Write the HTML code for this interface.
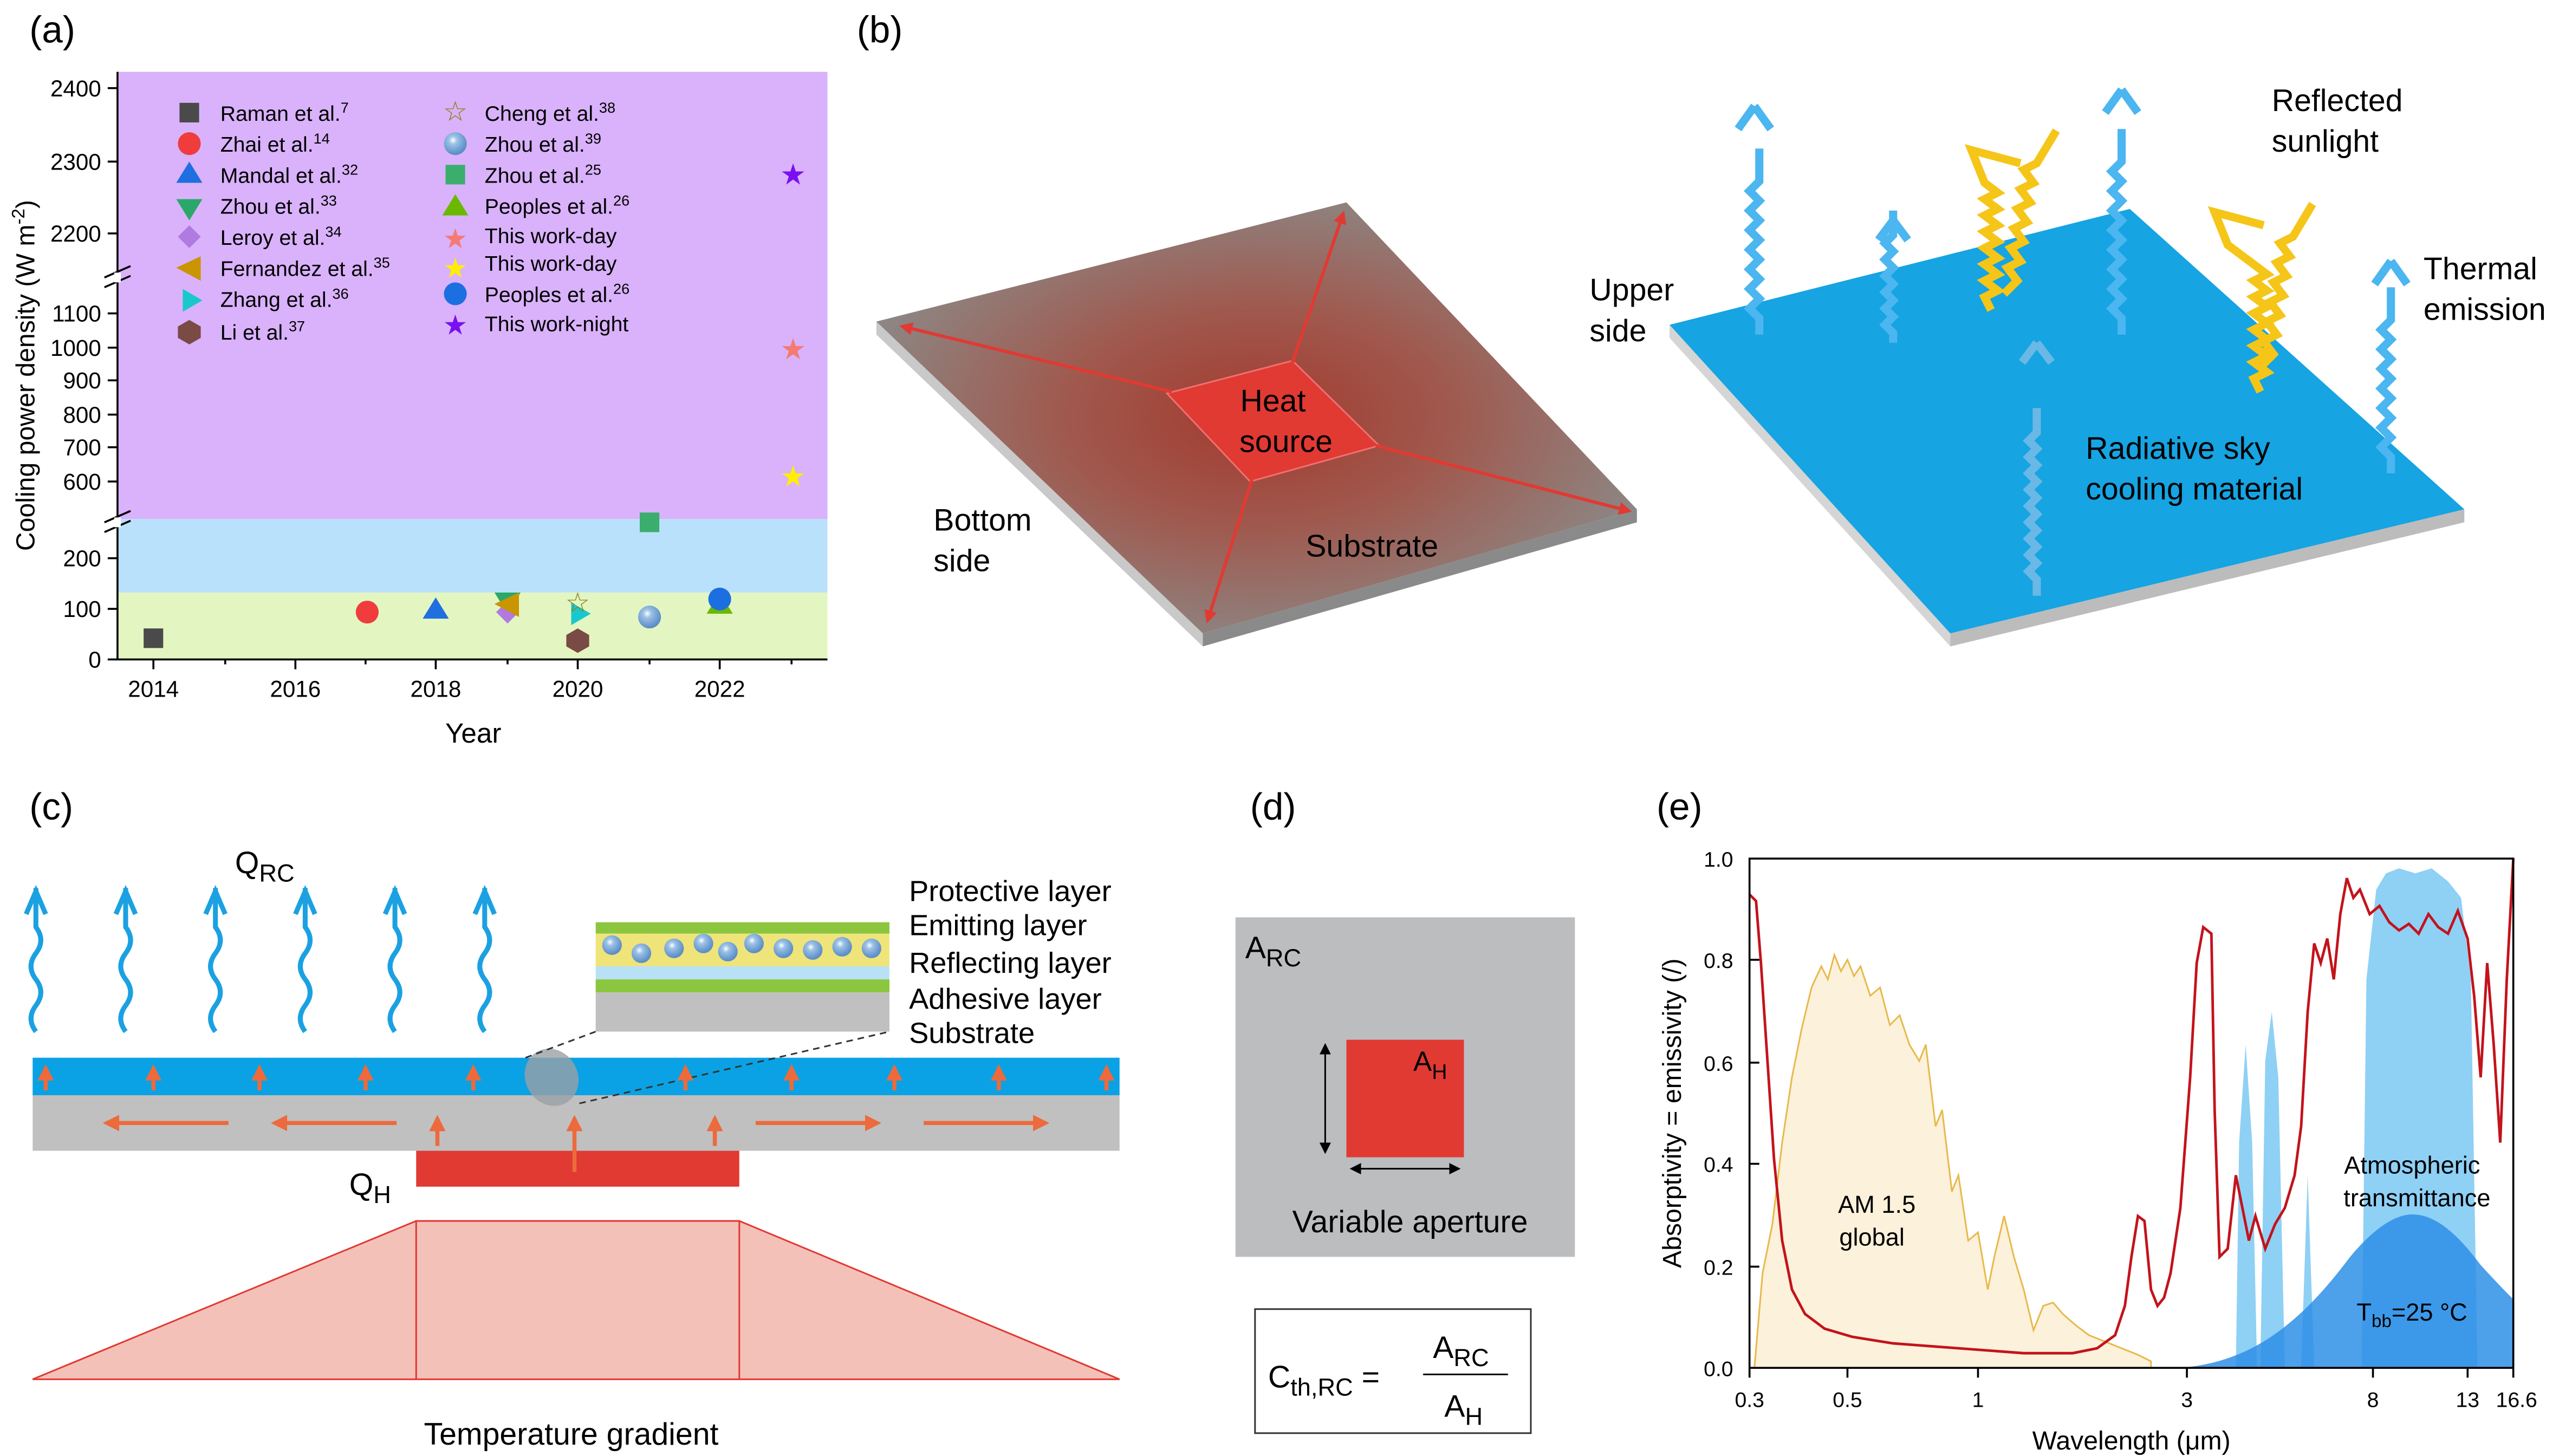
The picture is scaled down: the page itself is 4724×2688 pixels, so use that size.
<!DOCTYPE html>
<html><head><meta charset="utf-8"><style>
html,body{margin:0;padding:0;background:#fff;}
svg{display:block;font-family:"Liberation Sans",Arial,sans-serif;}
</style></head><body>
<svg width="4724" height="2688" viewBox="0 0 1568 892" preserveAspectRatio="none" xmlns="http://www.w3.org/2000/svg">
<defs>
<radialGradient id="heat" cx="0.5" cy="0.5" r="0.55">
<stop offset="0" stop-color="#a33a2e"/><stop offset="0.45" stop-color="#a0584d"/><stop offset="1" stop-color="#8c8886"/>
</radialGradient>
<radialGradient id="sph" cx="0.4" cy="0.35" r="0.6"><stop offset="0" stop-color="#fff"/><stop offset="0.3" stop-color="#9cc2e6"/><stop offset="1" stop-color="#5d8fc8"/></radialGradient>
<marker id="ar" markerWidth="8" markerHeight="8" refX="6" refY="4" orient="auto" markerUnits="userSpaceOnUse"><path d="M0,0 L8,4 L0,8 z" fill="#e03a33"/></marker>
<marker id="ao" markerWidth="10" markerHeight="10" refX="8" refY="5" orient="auto" markerUnits="userSpaceOnUse"><path d="M0,0 L10,5 L0,10 z" fill="#ec6a3c"/></marker>
<marker id="ak" markerWidth="7" markerHeight="7" refX="6" refY="3.5" orient="auto-start-reverse" markerUnits="userSpaceOnUse"><path d="M0,0 L7,3.5 L0,7 z" fill="#000"/></marker>
</defs>

<!-- ============ (a) ============ -->
<text x="18" y="26" font-size="23">(a)</text>
<rect x="72" y="44" width="435" height="274" fill="#d9b2fb"/>
<rect x="72" y="318" width="435" height="45" fill="#b9e1fb"/>
<rect x="72" y="363" width="435" height="41" fill="#e3f6c2"/>
<g stroke="#000" stroke-width="1.2" fill="none">
<line x1="72" y1="44" x2="72" y2="404"/><line x1="66" y1="404" x2="507" y2="404"/>
<line x1="66" y1="54" x2="72" y2="54"/><line x1="66" y1="99" x2="72" y2="99"/><line x1="66" y1="143" x2="72" y2="143"/>
<line x1="66" y1="192" x2="72" y2="192"/><line x1="66" y1="213" x2="72" y2="213"/><line x1="66" y1="233" x2="72" y2="233"/><line x1="66" y1="254" x2="72" y2="254"/><line x1="66" y1="274" x2="72" y2="274"/><line x1="66" y1="295" x2="72" y2="295"/>
<line x1="66" y1="342" x2="72" y2="342"/><line x1="66" y1="373" x2="72" y2="373"/>
<line x1="94" y1="404" x2="94" y2="410"/><line x1="181" y1="404" x2="181" y2="410"/><line x1="267" y1="404" x2="267" y2="410"/><line x1="354" y1="404" x2="354" y2="410"/><line x1="441" y1="404" x2="441" y2="410"/>
<line x1="138" y1="404" x2="138" y2="407"/><line x1="224" y1="404" x2="224" y2="407"/><line x1="311" y1="404" x2="311" y2="407"/><line x1="398" y1="404" x2="398" y2="407"/><line x1="485" y1="404" x2="485" y2="407"/>
<line x1="64" y1="170" x2="80" y2="163"/><line x1="64" y1="176" x2="80" y2="169"/>
<line x1="64" y1="320" x2="80" y2="313"/><line x1="64" y1="326" x2="80" y2="319"/>
</g>
<rect x="70" y="167" width="4" height="6" fill="#fff"/><rect x="70" y="317" width="4" height="6" fill="#fff"/>
<g font-size="14" text-anchor="end">
<text x="62" y="59">2400</text><text x="62" y="104">2300</text><text x="62" y="148">2200</text>
<text x="62" y="197">1100</text><text x="62" y="218">1000</text><text x="62" y="238">900</text><text x="62" y="259">800</text><text x="62" y="279">700</text><text x="62" y="300">600</text>
<text x="62" y="347">200</text><text x="62" y="378">100</text><text x="62" y="409">0</text>
</g>
<g font-size="14" text-anchor="middle"><text x="94" y="427">2014</text><text x="181" y="427">2016</text><text x="267" y="427">2018</text><text x="354" y="427">2020</text><text x="441" y="427">2022</text></g>
<text x="290" y="455" font-size="17" text-anchor="middle">Year</text>
<text transform="translate(21,230) rotate(-90)" font-size="16" text-anchor="middle">Cooling power density (W m<tspan dy="-6" font-size="11">-2</tspan><tspan dy="6">)</tspan></text>
<!-- legend -->
<g font-size="13">
<rect x="110" y="63" width="12" height="12" fill="#4a4a4a"/><text x="135" y="74">Raman et al.<tspan dy="-5" font-size="9">7</tspan></text>
<circle cx="116" cy="88" r="7" fill="#f03c3c"/><text x="135" y="93">Zhai et al.<tspan dy="-5" font-size="9">14</tspan></text>
<path d="M108,112 L116,99 L124,112z" fill="#1f6fe0"/><text x="135" y="112">Mandal et al.<tspan dy="-5" font-size="9">32</tspan></text>
<path d="M108,122 L124,122 L116,135z" fill="#2aa86a"/><text x="135" y="131">Zhou et al.<tspan dy="-5" font-size="9">33</tspan></text>
<path d="M116,138 L123,145 L116,152 L109,145z" fill="#b17ae0"/><text x="135" y="150">Leroy et al.<tspan dy="-5" font-size="9">34</tspan></text>
<path d="M108,164 L123,157 L123,172z" fill="#c99500"/><text x="135" y="169">Fernandez et al.<tspan dy="-5" font-size="9">35</tspan></text>
<path d="M112,177 L124,184 L112,191z" fill="#19c8cc"/><text x="135" y="188">Zhang et al.<tspan dy="-5" font-size="9">36</tspan></text>
<path d="M116,196 L123,200 L123,207 L116,211 L109,207 L109,200z" fill="#7a4a44"/><text x="135" y="208">Li et al.<tspan dy="-5" font-size="9">37</tspan></text>
<text x="279" y="74" font-size="17" text-anchor="middle" fill="#8a8020">☆</text><text x="297" y="74">Cheng et al.<tspan dy="-5" font-size="9">38</tspan></text>
<circle cx="279" cy="88" r="7" fill="url(#sph)"/><text x="297" y="93">Zhou et al.<tspan dy="-5" font-size="9">39</tspan></text>
<rect x="273" y="101" width="12" height="12" fill="#3bae6e"/><text x="297" y="112">Zhou et al.<tspan dy="-5" font-size="9">25</tspan></text>
<path d="M271,132 L279,119 L287,132z" fill="#6bb800"/><text x="297" y="131">Peoples et al.<tspan dy="-5" font-size="9">26</tspan></text>
<text x="279" y="152" font-size="17" text-anchor="middle" fill="#f47a72">★</text><text x="297" y="149">This work-day</text>
<text x="279" y="170" font-size="17" text-anchor="middle" fill="#ffee00">★</text><text x="297" y="166">This work-day</text>
<circle cx="279" cy="180" r="7" fill="#1c6fe0"/><text x="297" y="185">Peoples et al.<tspan dy="-5" font-size="9">26</tspan></text>
<text x="279" y="205" font-size="17" text-anchor="middle" fill="#7a10f0">★</text><text x="297" y="203">This work-night</text>
</g>
<!-- data points -->
<rect x="88" y="385" width="12" height="12" fill="#4a4a4a"/>
<circle cx="225" cy="375" r="7" fill="#f03c3c"/>
<path d="M259,379 L267,366 L275,379z" fill="#1f6fe0"/>
<path d="M303,363 L319,363 L311,376z" fill="#2aa86a"/>
<path d="M311,368 L318,375 L311,382 L304,375z" fill="#b17ae0"/>
<path d="M303,370 L318,363 L318,378z" fill="#c99500"/>
<path d="M350,369 L362,376 L350,383z" fill="#19c8cc"/>
<text x="354" y="375" font-size="17" text-anchor="middle" fill="#8a8020">☆</text>
<path d="M354,385 L361,389 L361,396 L354,400 L347,396 L347,389z" fill="#7a4a44"/>
<circle cx="398" cy="378" r="7" fill="url(#sph)"/>
<rect x="392" y="314" width="12" height="12" fill="#3bae6e"/>
<path d="M433,376 L441,363 L449,376z" fill="#6bb800"/>
<circle cx="441" cy="367" r="7" fill="#1c6fe0"/>
<text x="486" y="113" font-size="18" text-anchor="middle" fill="#7a10f0">★</text>
<text x="486" y="220" font-size="18" text-anchor="middle" fill="#f47a72">★</text>
<text x="486" y="298" font-size="18" text-anchor="middle" fill="#ffee00">★</text>

<!-- ============ (b) ============ -->
<text x="525" y="26" font-size="23">(b)</text>
<!-- left slab -->
<path d="M537,197 L737,388 L737,396 L537,205z" fill="#c9c9c9"/>
<path d="M737,388 L1003,312 L1003,320 L737,396z" fill="#8a8a8a"/>
<path d="M537,197 L825,124 L1003,312 L737,388z" fill="url(#heat)"/>
<path d="M715,241 L792,221 L845,273 L766,295z" fill="#e03a33" stroke="#f07070" stroke-width="1"/>
<g stroke="#e03a33" stroke-width="2" marker-end="url(#ar)">
<line x1="718" y1="240" x2="553" y2="200"/><line x1="792" y1="222" x2="823" y2="131"/>
<line x1="843" y1="273" x2="998" y2="313"/><line x1="767" y1="294" x2="740" y2="380"/>
</g>
<text x="780" y="252" font-size="19" text-anchor="middle">Heat</text><text x="788" y="277" font-size="19" text-anchor="middle">source</text>
<text x="572" y="325" font-size="19">Bottom</text><text x="572" y="350" font-size="19">side</text>
<text x="800" y="341" font-size="19">Substrate</text>
<!-- right slab -->
<path d="M1023,199 L1195,388 L1195,396 L1023,207z" fill="#d5d5d5"/>
<path d="M1195,388 L1510,312 L1510,320 L1195,396z" fill="#bcbcbc"/>
<path d="M1023,199 L1305,128 L1510,312 L1195,388z" fill="#16a4e2"/>
<g fill="none" stroke-width="5" stroke-linejoin="miter">
<g stroke="#4bb6f0">
<path d="M1078,205 l0,-10 l-6,-6 l6,-6 l-6,-6 l6,-6 l-6,-6 l6,-6 l-6,-6 l6,-6 l-6,-6 l6,-6 l-6,-6 l6,-6 l-6,-6 l6,-6 l0,-20"/>
<path d="M1075,65 l-10,14 M1075,65 l10,14"/>
<path d="M1160,210 l0,-6 l-5,-5 l5,-5 l-5,-5 l5,-5 l-5,-5 l5,-5 l-5,-5 l5,-5 l-5,-5 l5,-5 l-5,-5 l5,-5 l0,-15"/>
<path d="M1160,135 l-9,12 M1160,135 l9,12"/>
<path d="M1300,205 l0,-10 l-6,-6 l6,-6 l-6,-6 l6,-6 l-6,-6 l6,-6 l-6,-6 l6,-6 l-6,-6 l6,-6 l-6,-6 l6,-6 l-6,-6 l6,-6 l-6,-6 l6,-6 l0,-20"/>
<path d="M1300,55 l-10,14 M1300,55 l10,14"/>
<path d="M1465,290 l0,-10 l-6,-6 l6,-6 l-6,-6 l6,-6 l-6,-6 l6,-6 l-6,-6 l6,-6 l-6,-6 l6,-6 l-6,-6 l6,-6 l-6,-6 l6,-6 l0,-20"/>
<path d="M1465,160 l-10,14 M1465,160 l10,14"/>
</g>
<g stroke="#6ab8e6">
<path d="M1248,365 l0,-10 l-5,-5 l5,-5 l-5,-5 l5,-5 l-5,-5 l5,-5 l-5,-5 l5,-5 l-5,-5 l5,-5 l-5,-5 l5,-5 l-5,-5 l5,-5 l-5,-5 l5,-5 l-5,-5 l5,-5 l0,-15"/>
<path d="M1248,210 l-9,12 M1248,210 l9,12"/>
</g>
<g stroke="#f5c518">
<path d="M1220,190 l-4,-8 l8,-4 l-8,-6 l8,-4 l-8,-6 l8,-4 l-8,-6 l8,-4 l-8,-6 l8,-4 l-8,-6 l8,-4 l-8,-6 l8,-4 l-8,-6 l-8,-20 l30,8"/>
<path d="M1228,180 l8,-8 l-6,-8 l8,-4 l-6,-8 l8,-4 l-6,-8 l8,-4 l-6,-8 l8,-4 l-6,-8 l8,-4 l-6,-8 l8,-4 l12,-20"/>
<path d="M1385,240 l-4,-8 l8,-4 l-8,-6 l8,-4 l-8,-6 l8,-4 l-8,-6 l8,-4 l-8,-6 l8,-4 l-8,-6 l8,-4 l-8,-6 l8,-4 l-8,-6 l-8,-6 l-8,-6 l-8,-20 l30,8"/>
<path d="M1385,225 l8,-8 l-6,-8 l8,-4 l-6,-8 l8,-4 l-6,-8 l8,-4 l-6,-8 l8,-4 l-6,-8 l8,-4 l-6,-8 l8,-4 l12,-20"/>
</g>
</g>
<text x="974" y="184" font-size="19">Upper</text><text x="974" y="209" font-size="19">side</text>
<text x="1392" y="68" font-size="19">Reflected</text><text x="1392" y="93" font-size="19">sunlight</text>
<text x="1485" y="171" font-size="19">Thermal</text><text x="1485" y="196" font-size="19">emission</text>
<text x="1278" y="281" font-size="19">Radiative sky</text><text x="1278" y="306" font-size="19">cooling material</text>

<!-- ============ (c) ============ -->
<text x="18" y="502" font-size="23">(c)</text>
<text x="144" y="535" font-size="19">Q<tspan dy="5" font-size="15">RC</tspan></text>
<g fill="none" stroke="#1ba1e2" stroke-width="3">
<path d="M22,632 q-6,-8 0,-16 q6,-8 0,-16 q-6,-8 0,-16 q6,-8 0,-16 l0,-24 M16,560 l6,-14 l6,14"/>
<path d="M77,632 q-6,-8 0,-16 q6,-8 0,-16 q-6,-8 0,-16 q6,-8 0,-16 l0,-24 M71,560 l6,-14 l6,14"/>
<path d="M132,632 q-6,-8 0,-16 q6,-8 0,-16 q-6,-8 0,-16 q6,-8 0,-16 l0,-24 M126,560 l6,-14 l6,14"/>
<path d="M187,632 q-6,-8 0,-16 q6,-8 0,-16 q-6,-8 0,-16 q6,-8 0,-16 l0,-24 M181,560 l6,-14 l6,14"/>
<path d="M242,632 q-6,-8 0,-16 q6,-8 0,-16 q-6,-8 0,-16 q6,-8 0,-16 l0,-24 M236,560 l6,-14 l6,14"/>
<path d="M297,632 q-6,-8 0,-16 q6,-8 0,-16 q-6,-8 0,-16 q6,-8 0,-16 l0,-24 M291,560 l6,-14 l6,14"/>
</g>
<rect x="20" y="648" width="666" height="23" fill="#0aa2e4"/>
<rect x="20" y="671" width="666" height="34" fill="#c0c0c0"/>
<rect x="255" y="705" width="198" height="22" fill="#e03a33"/>
<ellipse cx="338" cy="660" rx="16" ry="18" transform="rotate(-30 338 660)" fill="#9aa0a6" opacity="0.8"/>
<line x1="322" y1="648" x2="365" y2="632" stroke="#333" stroke-dasharray="4,3"/>
<line x1="355" y1="676" x2="545" y2="632" stroke="#333" stroke-dasharray="4,3"/>
<rect x="365" y="565" width="180" height="7" fill="#8cc63f"/>
<rect x="365" y="572" width="180" height="20" fill="#efe47a"/>
<rect x="365" y="592" width="180" height="8" fill="#b9e1f5"/>
<rect x="365" y="600" width="180" height="8" fill="#8cc63f"/>
<rect x="365" y="608" width="180" height="24" fill="#c0c0c0"/>
<g fill="url(#sph)"><circle cx="375" cy="579" r="6"/><circle cx="393" cy="584" r="6"/><circle cx="413" cy="581" r="6"/><circle cx="431" cy="578" r="6"/><circle cx="446" cy="583" r="6"/><circle cx="462" cy="578" r="6"/><circle cx="480" cy="581" r="6"/><circle cx="498" cy="582" r="6"/><circle cx="516" cy="580" r="6"/><circle cx="534" cy="581" r="6"/></g>
<g font-size="18"><text x="557" y="552">Protective layer</text><text x="557" y="573">Emitting layer</text><text x="557" y="596">Reflecting layer</text><text x="557" y="618">Adhesive layer</text><text x="557" y="639">Substrate</text></g>
<g stroke="#ec6a3c" stroke-width="2.5" marker-end="url(#ao)">
<line x1="28" y1="668" x2="28" y2="654"/><line x1="94" y1="668" x2="94" y2="654"/><line x1="159" y1="668" x2="159" y2="654"/><line x1="224" y1="668" x2="224" y2="654"/><line x1="290" y1="668" x2="290" y2="654"/><line x1="420" y1="668" x2="420" y2="654"/><line x1="485" y1="668" x2="485" y2="654"/><line x1="548" y1="668" x2="548" y2="654"/><line x1="612" y1="668" x2="612" y2="654"/><line x1="678" y1="668" x2="678" y2="654"/>
<line x1="268" y1="702" x2="268" y2="685"/><line x1="352" y1="718" x2="352" y2="685"/><line x1="438" y1="702" x2="438" y2="685"/>
<line x1="140" y1="688" x2="65" y2="688"/><line x1="243" y1="688" x2="168" y2="688"/>
<line x1="463" y1="688" x2="538" y2="688"/><line x1="566" y1="688" x2="641" y2="688"/>
</g>
<text x="214" y="732" font-size="19">Q<tspan dy="5" font-size="15">H</tspan></text>
<path d="M20,845 L255,748 L453,748 L686,845z" fill="#f4c1b9" stroke="#e03a33" stroke-width="1"/>
<line x1="255" y1="748" x2="255" y2="845" stroke="#e03a33"/><line x1="453" y1="748" x2="453" y2="845" stroke="#e03a33"/>
<text x="350" y="885" font-size="19" text-anchor="middle">Temperature gradient</text>

<!-- ============ (d) ============ -->
<text x="766" y="502" font-size="23">(d)</text>
<rect x="757" y="562" width="208" height="208" fill="#bcbdbf"/>
<text x="763" y="587" font-size="19">A<tspan dy="5" font-size="15">RC</tspan></text>
<rect x="825" y="637" width="72" height="72" fill="#e03a33"/>
<text x="866" y="656" font-size="17">A<tspan dy="5" font-size="13">H</tspan></text>
<line x1="812" y1="640" x2="812" y2="706" stroke="#000" marker-start="url(#ak)" marker-end="url(#ak)"/>
<line x1="828" y1="716" x2="894" y2="716" stroke="#000" marker-start="url(#ak)" marker-end="url(#ak)"/>
<text x="864" y="755" font-size="19" text-anchor="middle">Variable aperture</text>
<rect x="769" y="802" width="169" height="76" fill="#fff" stroke="#333"/>
<text x="777" y="850" font-size="19">C<tspan dy="5" font-size="15">th,RC</tspan><tspan dy="-5"> =</tspan></text>
<text x="878" y="832" font-size="19">A<tspan dy="5" font-size="15">RC</tspan></text>
<line x1="872" y1="842" x2="924" y2="842" stroke="#000"/>
<text x="885" y="868" font-size="19">A<tspan dy="5" font-size="15">H</tspan></text>

<!-- ============ (e) ============ -->
<text x="1015" y="502" font-size="23">(e)</text>
<!-- AM1.5 -->
<path d="M1075,838 L1080,780 L1086,750 L1092,700 L1098,660 L1104,630 L1110,605 L1116,592 L1120,600 L1124,585 L1128,595 L1132,588 L1136,598 L1140,592 L1146,610 L1152,605 L1158,628 L1164,622 L1170,640 L1176,650 L1180,640 L1186,690 L1190,680 L1196,730 L1200,720 L1206,760 L1212,755 L1218,790 L1222,770 L1228,745 L1234,770 L1240,790 L1246,815 L1252,800 L1258,798 L1264,805 L1272,812 L1280,818 L1290,822 L1300,826 L1310,830 L1318,834 L1318,838 Z" fill="#fcf1da" stroke="#e8b94c" stroke-width="1"/>
<!-- atmospheric transmittance -->
<path d="M1370,838 L1372,700 L1376,640 L1380,700 L1383,838 Z M1385,838 L1388,650 L1392,620 L1396,660 L1400,838 Z M1410,838 L1414,720 L1418,838 Z M1447,838 L1450,600 L1456,545 L1462,535 L1470,532 L1480,535 L1490,532 L1500,540 L1508,550 L1514,600 L1518,838 Z" fill="#8fd0f5"/>
<!-- blackbody -->
<path d="M1335,838 C1380,835 1410,810 1440,770 C1455,752 1468,744 1478,744 C1492,744 1505,755 1520,775 C1530,786 1536,792 1540,796 L1540,838 Z" fill="#2e8fe6" opacity="0.85"/>
<!-- absorptivity -->
<polyline fill="none" stroke="#c3131b" stroke-width="1.6" points="1072,548 1076,552 1079,590 1083,650 1087,710 1092,760 1098,790 1106,805 1118,814 1135,819 1160,823 1200,826 1240,829 1270,829 1285,826 1296,818 1302,800 1306,770 1310,745 1314,748 1318,790 1322,800 1326,795 1330,780 1336,740 1342,660 1346,590 1350,568 1355,572 1357,680 1360,770 1365,765 1370,720 1374,740 1378,760 1382,745 1388,765 1394,750 1400,740 1406,720 1410,690 1414,620 1418,578 1422,590 1426,575 1430,600 1434,560 1438,538 1442,550 1446,545 1452,560 1458,555 1464,565 1470,570 1476,566 1482,572 1488,560 1494,568 1500,572 1506,558 1512,575 1516,610 1520,660 1524,590 1528,640 1532,700 1536,600 1540,526"/>
<rect x="1072" y="526" width="468" height="312" fill="none" stroke="#000" stroke-width="1.2"/>
<g stroke="#000" stroke-width="1.2">
<line x1="1072" y1="838" x2="1072" y2="844"/><line x1="1132" y1="838" x2="1132" y2="844"/><line x1="1212" y1="838" x2="1212" y2="844"/><line x1="1340" y1="838" x2="1340" y2="844"/><line x1="1454" y1="838" x2="1454" y2="844"/><line x1="1512" y1="838" x2="1512" y2="844"/><line x1="1540" y1="838" x2="1540" y2="844"/>
<line x1="1072" y1="776" x2="1078" y2="776"/><line x1="1072" y1="713" x2="1078" y2="713"/><line x1="1072" y1="651" x2="1078" y2="651"/><line x1="1072" y1="588" x2="1078" y2="588"/>
</g>
<g font-size="13" text-anchor="end"><text x="1062" y="843">0.0</text><text x="1062" y="781">0.2</text><text x="1062" y="718">0.4</text><text x="1062" y="656">0.6</text><text x="1062" y="593">0.8</text><text x="1062" y="531">1.0</text></g>
<g font-size="13" text-anchor="middle"><text x="1072" y="862">0.3</text><text x="1132" y="862">0.5</text><text x="1212" y="862">1</text><text x="1340" y="862">3</text><text x="1454" y="862">8</text><text x="1512" y="862">13</text><text x="1542" y="862">16.6</text></g>
<text x="1306" y="888" font-size="16" text-anchor="middle">Wavelength (μm)</text>
<text transform="translate(1030,682) rotate(-90)" font-size="16" text-anchor="middle">Absorptivity = emissivity (/)</text>
<text x="1150" y="743" font-size="15" text-anchor="middle">AM 1.5</text><text x="1147" y="763" font-size="15" text-anchor="middle">global</text>
<text x="1478" y="719" font-size="15" text-anchor="middle">Atmospheric</text><text x="1481" y="739" font-size="15" text-anchor="middle">transmittance</text>
<text x="1444" y="809" font-size="15">T<tspan dy="4" font-size="11">bb</tspan><tspan dy="-4">=25 °C</tspan></text>
</svg>
</body></html>
